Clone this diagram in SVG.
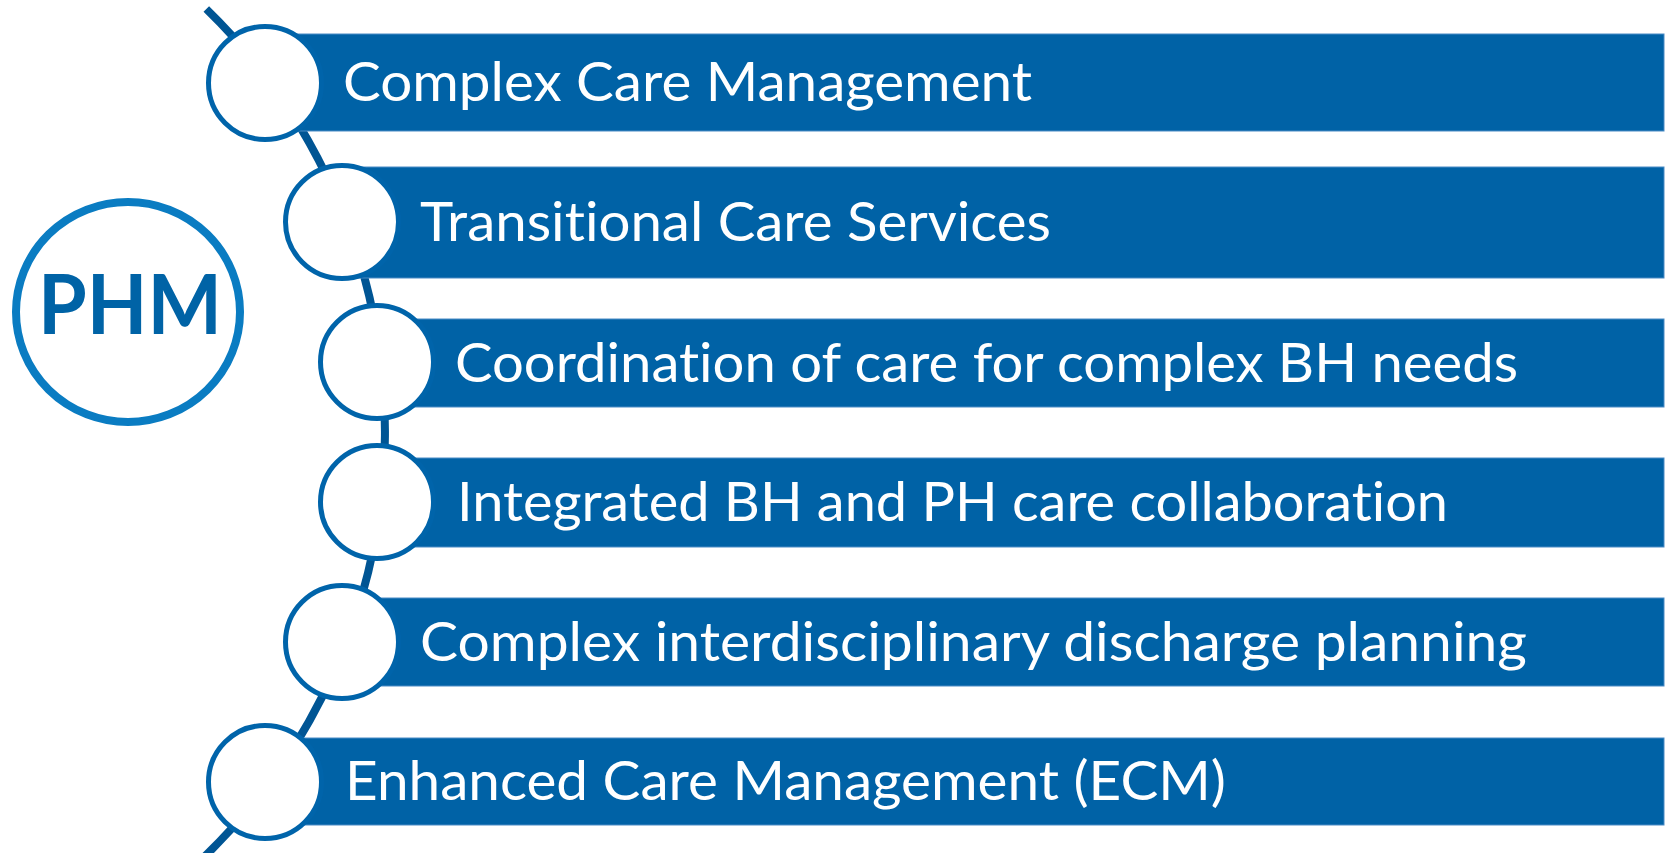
<svg xmlns="http://www.w3.org/2000/svg" width="1667" height="853" viewBox="0 0 1667 853">
<style>
.bar{fill:#0062A6;stroke:#4A8BC5;stroke-width:1}
.dot{fill:#FFFFFF;stroke:#0064AA;stroke-width:5}
.lbl{font-family:Lato,"Open Sans","Liberation Sans",sans-serif;font-size:54px;fill:#FFFFFF;font-variant-ligatures:none;font-feature-settings:"liga" 0,"clig" 0}
.arc{fill:none;stroke:#005594;stroke-width:8}
</style>
<rect width="1667" height="853" fill="#FFFFFF"/>
<g id="connectors">
<path class="arc" d="M 206.3 9 A 590 590 0 0 1 201 860"/>
</g>
<g id="phm">
<ellipse cx="128" cy="312" rx="112" ry="110" fill="#FFFFFF" stroke="#0A7CC2" stroke-width="8"/>
<text x="130" y="334" text-anchor="middle" textLength="184" lengthAdjust="spacingAndGlyphs" style="font-family:Lato,'Open Sans','Liberation Sans',sans-serif;font-size:82px;font-weight:700;fill:#0063A6">PHM</text>
</g>
<g id="item1">
<rect class="bar" x="265" y="34" width="1399" height="97"/>
<circle class="dot" cx="265" cy="83" r="56.5"/>
<text class="lbl" x="343" y="101" textLength="689" lengthAdjust="spacingAndGlyphs">Complex Care Management</text>
</g>
<g id="item2">
<rect class="bar" x="342" y="167" width="1322" height="111"/>
<circle class="dot" cx="342" cy="222" r="56.5"/>
<text class="lbl" x="420" y="241" textLength="631" lengthAdjust="spacingAndGlyphs">Transitional Care Services</text>
</g>
<g id="item3">
<rect class="bar" x="377" y="319" width="1287" height="88"/>
<circle class="dot" cx="377" cy="362" r="56.5"/>
<text class="lbl" x="455" y="382" textLength="1063" lengthAdjust="spacingAndGlyphs">Coordination of care for complex BH needs</text>
</g>
<g id="item4">
<rect class="bar" x="377" y="458" width="1287" height="89"/>
<circle class="dot" cx="377" cy="502" r="56.5"/>
<text class="lbl" x="457" y="521" textLength="991" lengthAdjust="spacingAndGlyphs">Integrated BH and PH care collaboration</text>
</g>
<g id="item5">
<rect class="bar" x="342" y="598" width="1322" height="88"/>
<circle class="dot" cx="342" cy="642" r="56.5"/>
<text class="lbl" x="420" y="661" textLength="1107" lengthAdjust="spacingAndGlyphs">Complex interdisciplinary discharge planning</text>
</g>
<g id="item6">
<rect class="bar" x="265" y="738" width="1399" height="87"/>
<circle class="dot" cx="265" cy="782" r="56.5"/>
<text class="lbl" x="345" y="800" textLength="881" lengthAdjust="spacingAndGlyphs">Enhanced Care Management (ECM)</text>
</g>
</svg>
